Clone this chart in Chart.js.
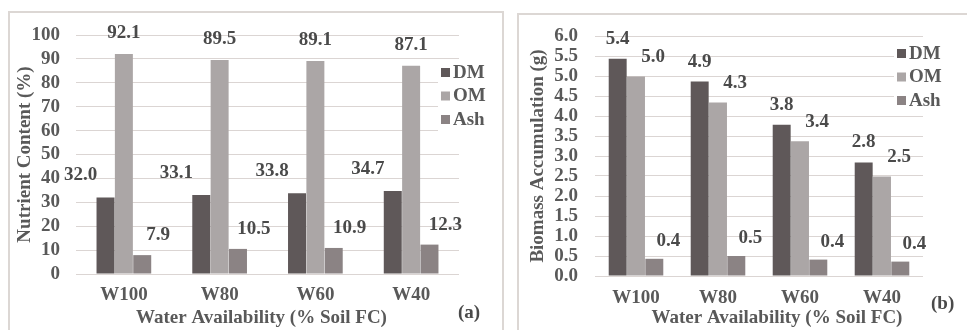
<!DOCTYPE html>
<html>
<head>
<meta charset="utf-8">
<script src="https://cdn.jsdelivr.net/npm/chart.js@4/dist/chart.umd.min.js"></script>
<style>
  html, body { margin: 0; padding: 0; background: #ffffff; }
  body { width: 967px; height: 330px; position: relative; overflow: hidden; }
  .frame { position: absolute; border: 2px solid #dcd7d4; box-sizing: border-box; }
  canvas { position: absolute; top: 0; }
  .tag { position: absolute; font: bold 19px "Liberation Serif", "Times New Roman", serif; color: #4a4a4a; line-height: 20px; }
</style>
</head>
<body>
<div class="frame" style="left:8px; top:11px; width:496px; height:340px;"></div>
<div class="frame" style="left:517px; top:13px; width:470px; height:340px;"></div>
<canvas id="chartA" width="505" height="330" style="left:0px;"></canvas>
<canvas id="chartB" width="462" height="330" style="left:505px;"></canvas>
<div class="tag" style="left:458px; top:302px;">(a)</div>
<div class="tag" style="left:931px; top:293px;">(b)</div>
<script>
// ---- data ----
const categories = ['W100', 'W80', 'W60', 'W40'];
const seriesNames = ['DM', 'OM', 'Ash'];
// (a) Nutrient Content (%)
const nutrientDM  = [32.0, 33.1, 33.8, 34.7];
const nutrientOM  = [92.1, 89.5, 89.1, 87.1];
const nutrientAsh = [7.9, 10.5, 10.9, 12.3];
// (b) Biomass Accumulation (g)
const biomassDM  = [5.43, 4.86, 3.78, 2.84];
const biomassOM  = [4.99, 4.34, 3.37, 2.49];
const biomassAsh = [0.43, 0.50, 0.41, 0.36];
const nutrientTicks = [0, 10, 20, 30, 40, 50, 60, 70, 80, 90, 100];
const biomassTicks = [0.0, 0.5, 1.0, 1.5, 2.0, 2.5, 3.0, 3.5, 4.0, 4.5, 5.0, 5.5, 6.0];
const xTitle = 'Water Availability (% Soil FC)';
const yTitleA = 'Nutrient Content (%)';
const yTitleB = 'Biomass Accumulation (g)';

// ---- styles ----
const colors = ['#5f5859', '#aba6a6', '#8b8384'];
const FONT = '"Liberation Serif", "Times New Roman", serif';
const FS = 19;
const tickColor = '#595959';
const valueColor = '#4a4a4a';
const gridColor = '#dbd5d3';

function makeDatasets(arrs) {
  return arrs.map((d, i) => ({
    label: seriesNames[i],
    data: d,
    backgroundColor: colors[i],
    borderWidth: 0,
    barPercentage: 0.98
  }));
}

// value labels drawn at library-computed bar positions
const valueLabels = {
  id: 'valueLabels',
  afterDatasetsDraw(chart, args, opts) {
    const ctx = chart.ctx;
    ctx.save();
    ctx.font = 'bold ' + FS + 'px ' + FONT;
    ctx.fillStyle = valueColor;
    ctx.textAlign = 'center';
    ctx.textBaseline = 'middle';
    chart.data.datasets.forEach((ds, di) => {
      const meta = chart.getDatasetMeta(di);
      const off = opts.offsets[di];
      meta.data.forEach((bar, i) => {
        ctx.fillText(ds.data[i].toFixed(1), bar.x + off[0], bar.y + off[1]);
      });
    });
    ctx.restore();
  }
};

// legend with white backing, drawn from dataset labels/colours
const boxLegend = {
  id: 'boxLegend',
  afterDraw(chart, args, opts) {
    const ctx = chart.ctx;
    ctx.save();
    ctx.fillStyle = '#ffffff';
    ctx.fillRect(opts.x - 3, opts.y - 12, 62, opts.gap * 2 + 24);
    ctx.font = 'bold ' + FS + 'px ' + FONT;
    ctx.textBaseline = 'middle';
    ctx.textAlign = 'left';
    chart.data.datasets.forEach((ds, i) => {
      const y = opts.y + i * opts.gap;
      ctx.fillStyle = ds.backgroundColor;
      ctx.fillRect(opts.x, y - 4, 9, 9);
      ctx.fillStyle = tickColor;
      ctx.fillText(ds.label, opts.x + 12, y + 1);
    });
    ctx.restore();
  }
};

// x-axis title
const xAxisTitle = {
  id: 'xAxisTitle',
  afterDraw(chart, args, opts) {
    const ctx = chart.ctx;
    const a = chart.chartArea;
    ctx.save();
    ctx.font = 'bold ' + FS + 'px ' + FONT;
    ctx.fillStyle = tickColor;
    ctx.textAlign = 'center';
    ctx.textBaseline = 'middle';
    ctx.fillText(opts.text, (a.left + a.right) / 2 + opts.dx, opts.y);
    ctx.restore();
  }
};

function makeChart(id, cfg) {
  return new Chart(document.getElementById(id), {
    type: 'bar',
    data: { labels: categories, datasets: makeDatasets(cfg.series) },
    options: {
      responsive: false,
      animation: false,
      devicePixelRatio: 1,
      layout: { padding: { left: 0, right: cfg.padRight, top: cfg.padTop, bottom: 1 } },
      datasets: { bar: { categoryPercentage: cfg.catPct } },
      scales: {
        x: {
          grid: { display: false, drawTicks: false },
          border: { display: false },
          ticks: { color: tickColor, font: { family: FONT, size: FS, weight: 'bold' }, padding: cfg.xTickPad, maxRotation: 0, autoSkip: false },
          afterFit(s) { s.height = cfg.xHeight; }
        },
        y: {
          min: cfg.ticks[0],
          max: cfg.ticks[cfg.ticks.length - 1],
          afterBuildTicks(s) { s.ticks = cfg.ticks.map(v => ({ value: v })); },
          grid: { color: gridColor, lineWidth: 1, drawTicks: false },
          border: { display: false },
          ticks: {
            color: tickColor,
            font: { family: FONT, size: FS, weight: 'bold' },
            padding: cfg.yTickPad,
            autoSkip: false,
            callback: v => cfg.fmt(v)
          },
          title: {
            display: true,
            text: cfg.yTitle,
            color: tickColor,
            font: { family: FONT, size: FS, weight: 'bold' },
            padding: { top: cfg.yTitlePad, bottom: 0 }
          },
          afterFit(s) { s.width = cfg.yWidth; }
        }
      },
      plugins: {
        legend: { display: false },
        tooltip: { enabled: false },
        valueLabels: { offsets: cfg.offsets },
        boxLegend: cfg.legend,
        xAxisTitle: { text: xTitle, dx: cfg.titleDx, y: 318 }
      }
    },
    plugins: [valueLabels, boxLegend, xAxisTitle]
  });
}

makeChart('chartA', {
  series: [nutrientDM, nutrientOM, nutrientAsh],
  ticks: nutrientTicks,
  fmt: v => String(v),
  yTitle: yTitleA,
  padRight: 46, padTop: 35,
  yWidth: 76, xHeight: 55,
  catPct: 0.575,
  xTickPad: 10, yTickPad: 16, yTitlePad: 14,
  offsets: [[-25, -22], [0, -21], [16, -20]],
  legend: { x: 441, y: 72, gap: 23.5 },
  titleDx: -6
});

makeChart('chartB', {
  series: [biomassDM, biomassOM, biomassAsh],
  ticks: biomassTicks,
  fmt: v => Number(v).toFixed(1),
  yTitle: yTitleB,
  padRight: 44, padTop: 36,
  yWidth: 90, xHeight: 53,
  catPct: 0.67,
  xTickPad: 11, yTickPad: 17, yTitlePad: 22,
  offsets: [[0, -20], [17, -19], [14, -18]],
  legend: { x: 392, y: 53, gap: 23.5 },
  titleDx: 18
});
</script>
</body>
</html>
